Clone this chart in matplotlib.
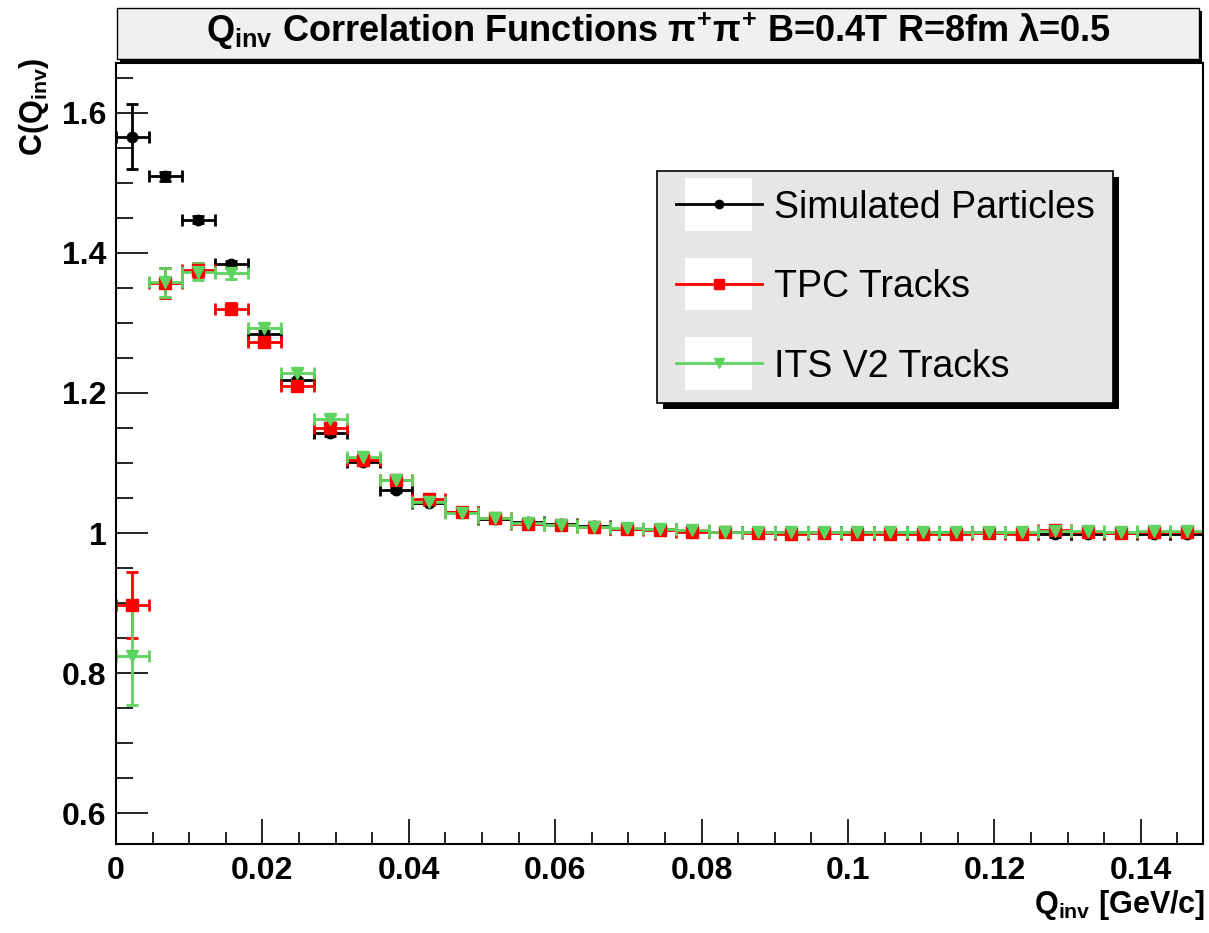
import numpy as np
import matplotlib
matplotlib.use('Agg')
import matplotlib.pyplot as plt
from matplotlib.lines import Line2D
from matplotlib.patches import Rectangle
from matplotlib.legend_handler import HandlerLine2D
from matplotlib.ticker import MultipleLocator, FuncFormatter

plt.rcParams['font.family'] = ['Liberation Sans', 'DejaVu Sans']
plt.rcParams['mathtext.fontset'] = 'custom'
plt.rcParams['mathtext.rm'] = 'Liberation Sans:bold'
plt.rcParams['mathtext.it'] = 'Liberation Sans:bold'
plt.rcParams['mathtext.bf'] = 'Liberation Sans:bold'

# binning: 33 bins of 0.0045 GeV/c
bin_w = 0.0045
n_bins = 33
q = (np.arange(n_bins) + 0.5) * bin_w

sim = [1.566, 1.509, 1.447, 1.384, 1.284, 1.218, 1.143, 1.101, 1.062, 1.043,
       1.030, 1.020, 1.016, 1.013, 1.010, 1.006, 1.005, 1.003, 1.002, 1.001,
       1.002, 1.002, 1.002, 1.002, 1.002, 1.002, 1.001, 1.000, 0.998, 0.999,
       1.000, 0.999, 0.999]
sim_err = [0.047, 0.006, 0.005, 0.005, 0.004, 0.004, 0.004, 0.003, 0.003, 0.003,
           0.003, 0.003, 0.003, 0.003, 0.003, 0.003, 0.003, 0.003, 0.003, 0.003,
           0.003, 0.003, 0.003, 0.003, 0.003, 0.003, 0.003, 0.003, 0.003, 0.003,
           0.003, 0.003, 0.003]

tpc = [0.897, 1.357, 1.376, 1.320, 1.273, 1.210, 1.150, 1.104, 1.075, 1.049,
       1.030, 1.022, 1.013, 1.011, 1.008, 1.006, 1.004, 1.002, 1.001, 1.000,
       0.999, 1.000, 0.999, 0.999, 0.999, 0.999, 1.000, 0.998, 1.004, 1.002,
       1.000, 1.001, 1.001]
tpc_err = [0.047, 0.021, 0.010, 0.008, 0.007, 0.006, 0.005, 0.005, 0.004, 0.004,
           0.004, 0.003, 0.003, 0.003, 0.003, 0.003, 0.003, 0.003, 0.003, 0.003,
           0.003, 0.003, 0.003, 0.003, 0.003, 0.003, 0.003, 0.003, 0.003, 0.003,
           0.003, 0.003, 0.003]

its = [0.825, 1.358, 1.373, 1.371, 1.293, 1.228, 1.163, 1.109, 1.076, 1.044,
       1.028, 1.021, 1.014, 1.012, 1.009, 1.007, 1.005, 1.004, 1.002, 1.002,
       1.001, 1.002, 1.002, 1.002, 1.002, 1.002, 1.002, 1.002, 1.003, 1.003,
       1.002, 1.003, 1.003]
its_err = [0.071, 0.021, 0.012, 0.009, 0.007, 0.006, 0.005, 0.005, 0.004, 0.004,
           0.004, 0.003, 0.003, 0.003, 0.003, 0.003, 0.003, 0.003, 0.003, 0.003,
           0.003, 0.003, 0.003, 0.003, 0.003, 0.003, 0.003, 0.003, 0.003, 0.003,
           0.003, 0.003, 0.003]

labels = ['Simulated Particles', 'TPC Tracks', 'ITS V2 Tracks']
green = '#5fd35f'

fig = plt.figure(figsize=(12.09, 9.33), dpi=100)
ax = fig.add_axes([116/1209, 89/933, 1087/1209, 781/933])

series = [(sim, sim_err, 'black', 'o', 7.5), (tpc, tpc_err, 'red', 's', 8.5), (its, its_err, green, 'v', 9)]
for vals, errs, col, mk, ms in series:
    ax.errorbar(q, vals, yerr=errs, xerr=bin_w/2, fmt=mk, color=col, ms=ms,
                elinewidth=2, capsize=4, capthick=2, mec=col, mfc=col)

ax.set_xlim(0, 0.1485)
ax.set_ylim(0.556, 1.671)
ax.xaxis.set_major_locator(MultipleLocator(0.02))
ax.xaxis.set_minor_locator(MultipleLocator(0.005))
ax.yaxis.set_major_locator(MultipleLocator(0.2))
ax.yaxis.set_minor_locator(MultipleLocator(0.05))
fmt = FuncFormatter(lambda v, p: '%g' % round(v, 4))
ax.xaxis.set_major_formatter(fmt)
ax.yaxis.set_major_formatter(fmt)
ax.tick_params(axis='x', which='major', direction='in', length=18, width=1.2, labelsize=23, pad=8.5)
ax.tick_params(axis='x', which='minor', direction='in', length=8.6, width=1.2)
ax.tick_params(axis='y', which='major', direction='in', length=23, width=1.2, labelsize=23, pad=7)
ax.tick_params(axis='y', which='minor', direction='in', length=12, width=1.2)
for lab in ax.get_xticklabels() + ax.get_yticklabels():
    lab.set_fontweight('bold')
for s in ax.spines.values():
    s.set_linewidth(1.5)

# legend with white boxes behind the symbols
class BoxHandler(HandlerLine2D):
    def create_artists(self, legend, orig_handle, xdescent, ydescent, width, height, fontsize, trans):
        arts = super().create_artists(legend, orig_handle, xdescent, ydescent, width, height, fontsize, trans)
        box = Rectangle((-xdescent + 0.1*width, -ydescent + height/2 - 1.0*height), 0.78*width, 2.0*height,
                        facecolor='white', edgecolor='none', transform=trans)
        return [box] + arts

handles = [Line2D([], [], color=c, marker=m, ms=ms*0.8, lw=2) for _, _, c, m, ms in series]
leg = ax.legend(handles, labels, loc='upper left', bbox_to_anchor=(0.498, 0.862), borderaxespad=0,
                fontsize=27, frameon=True, fancybox=False, edgecolor='black', facecolor='#e6e6e6',
                framealpha=1, handlelength=2.3, labelspacing=1.16, borderpad=0.5, handletextpad=0.3,
                handler_map={Line2D: BoxHandler()})
leg.get_frame().set_linewidth(1.2)

fig.canvas.draw()
bb = leg.get_window_extent().transformed(ax.transAxes.inverted())
dx, dy = 6/1087, 6/781
ax.add_patch(Rectangle((bb.x0 + dx, bb.y0 - dy), bb.width, bb.height, transform=ax.transAxes,
                       facecolor='black', edgecolor='none', zorder=4.9, clip_on=False))

# title box
tx0, tx1 = 117/1209, 1199/1209
ty0, ty1 = 1 - 59/933, 1 - 8/933
fig.add_artist(Rectangle((tx0 + 3/1209, ty0 - 3/933), tx1 - tx0, ty1 - ty0, transform=fig.transFigure,
                         facecolor='black', edgecolor='none'))
fig.add_artist(Rectangle((tx0, ty0), tx1 - tx0, ty1 - ty0, transform=fig.transFigure,
                         facecolor='#f0f0f0', edgecolor='black', linewidth=1))
fig.text((tx0 + tx1)/2, (ty0 + ty1)/2 + 2/933,
         r'$\mathrm{Q_{inv}}$ Correlation Functions $\pi^{+}\pi^{+}$ B=0.4T R=8fm $\lambda$=0.5',
         ha='center', va='center', fontsize=26, fontweight='bold')

fig.text(0.028, 1 - 57/933, r'$\mathrm{C(Q_{inv})}$', rotation=90, ha='center', va='top', fontsize=22)
fig.text(0.997, 1 - 905/933, r'$\mathrm{Q_{inv}}$ [GeV/c]', ha='right', va='center',
         fontsize=22, fontweight='bold')

fig.savefig('out.png', dpi=100, facecolor='white')
